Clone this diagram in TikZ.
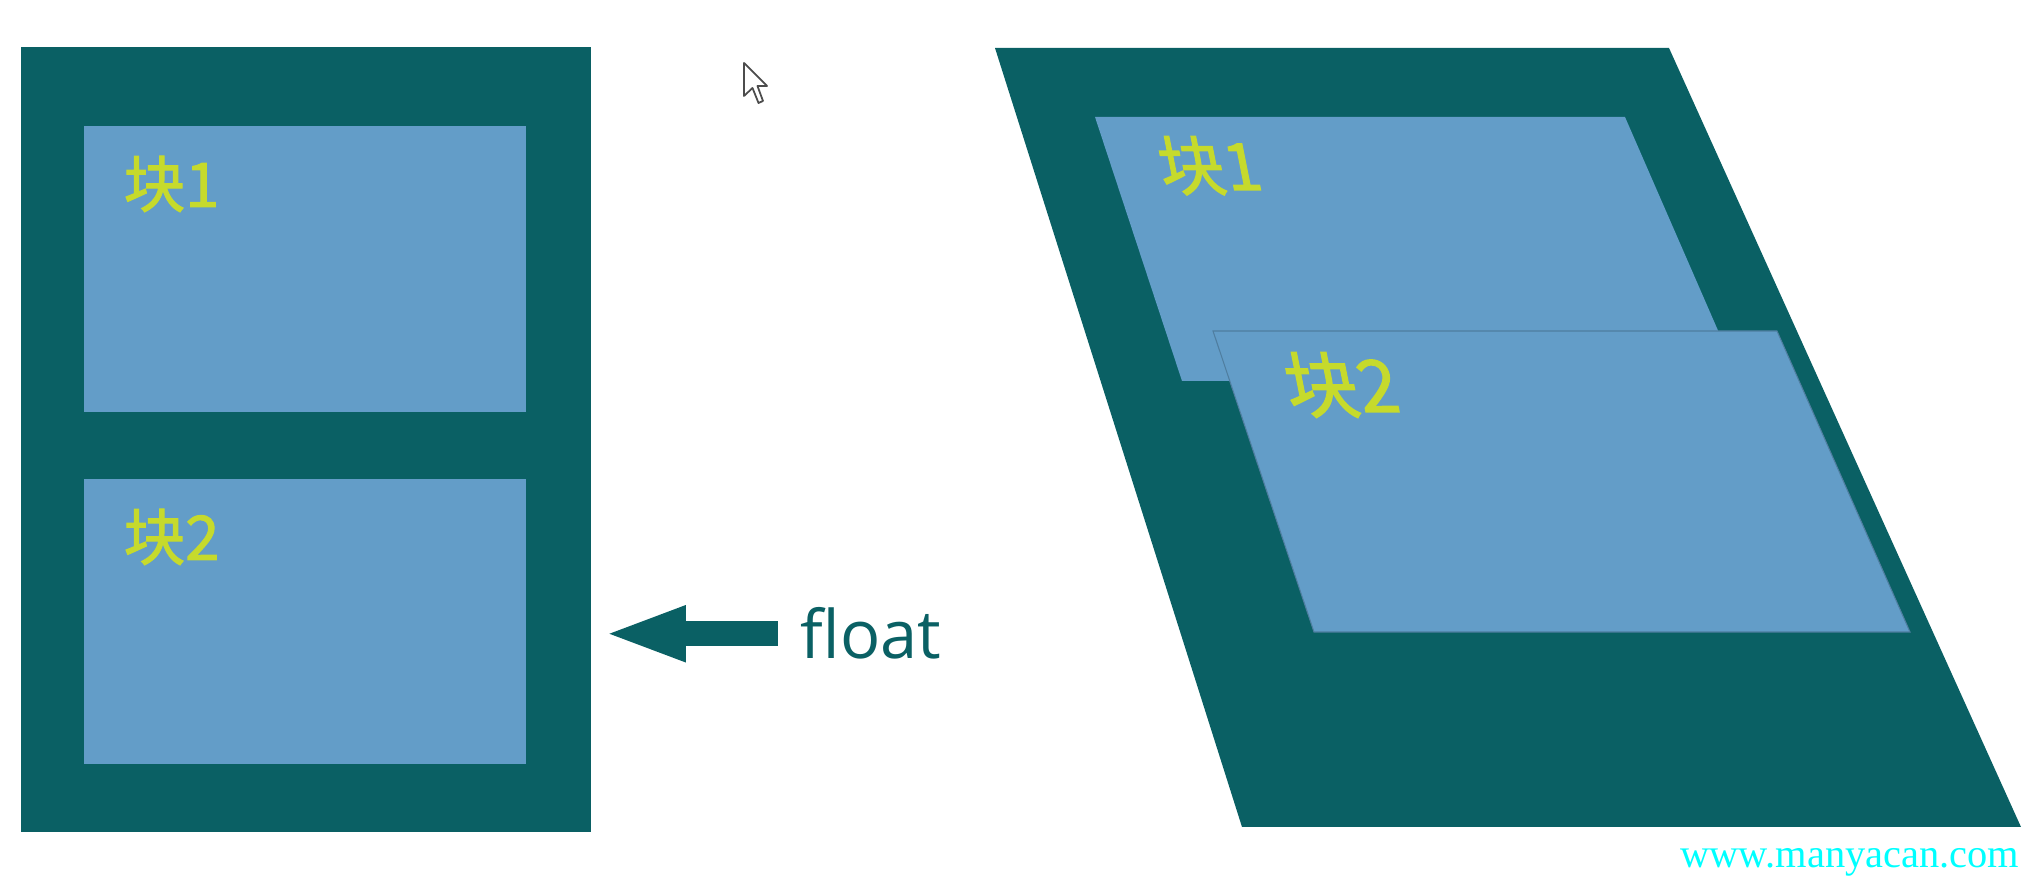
\documentclass[tikz,border=0pt]{standalone}
\usepackage{fontspec}
\setmainfont{Open Sans}
\newfontfamily\cjkfont[FakeBold=1.6]{Noto Sans CJK SC}
\newfontfamily\markfont{Liberation Serif}
\usetikzlibrary{arrows.meta}
\definecolor{wrapteal}{HTML}{0A6064}
\definecolor{blockblue}{HTML}{639DC8}
\definecolor{labelgreen}{HTML}{C6DA2C}
\definecolor{markcyan}{HTML}{00FFFF}
\tikzset{
  wrapper/.style={fill=wrapteal},
  block/.style={fill=blockblue},
  blocklabel/.style={anchor=base west, inner sep=0pt, text=labelgreen, font=\cjkfont\fontsize{17.5}{20}\selectfont},
  tiltlabel/.style={blocklabel, xslant=-0.2, transform shape},
  floatlabel/.style={anchor=base west, inner sep=0pt, text=wrapteal, font=\fontsize{19}{22}\selectfont},
  floatarrow/.style={-{Triangle[length=0.83cm,width=0.5cm]}, wrapteal, line width=0.25cm},
  pointer/.style={draw=black!70, fill=white, line width=0.5pt, line join=round},
}

\begin{document}
\begin{tikzpicture}[x=0.01cm, y=-0.01cm]
    \useasboundingbox (0,0) rectangle (2032,889);

    % normal flow: two blocks stacked in the wrapper
    \fill[wrapper] (21,47) rectangle (591,832);
    \fill[block] (84,126) rectangle (526,412);
    \fill[block] (84,479) rectangle (526,764);
    \node[blocklabel] (flatone) at (123,207) {块1};
    \node[blocklabel] (flattwo) at (123,560) {块2};

    \node[floatlabel] (floatlbl) at (800,659) {float};
    \coordinate (floattip) at ([xshift=-1.97cm]floatlbl.west);
    \draw[floatarrow, shorten <=0.22cm] (floatlbl.west) -- (floattip);

    % mouse pointer
    \draw[pointer] (744,63) -- (744,96) -- (752.5,88) -- (758.5,103) -- (763,101) -- (757.5,86) -- (767,86) -- cycle;

    % tilted view: block 2 floats above block 1
    \fill[wrapper] (995,48) -- (1669,48) -- (2021,827) -- (1242,827) -- cycle;
    \fill[block] (1095,117) -- (1625,117) -- (1740,381) -- (1182,381) -- cycle;
    \node[tiltlabel, font=\cjkfont\fontsize{18.5}{21}\selectfont] (tiltone) at (1163,190) {块1};
    \filldraw[block, draw=blockblue!80!black, line width=0.3pt] (1213,331) -- (1777,331) -- (1910,632) -- (1314,632) -- cycle;
    \node[tiltlabel, font=\cjkfont\fontsize{20.5}{23}\selectfont] (tilttwo) at (1290,412) {块2};

    \node[anchor=base east, inner sep=0pt, text=markcyan, font=\markfont\fontsize{11.5}{13}\selectfont] (site) at (2020,868) {www.manyacan.com};
\end{tikzpicture}
\end{document}
